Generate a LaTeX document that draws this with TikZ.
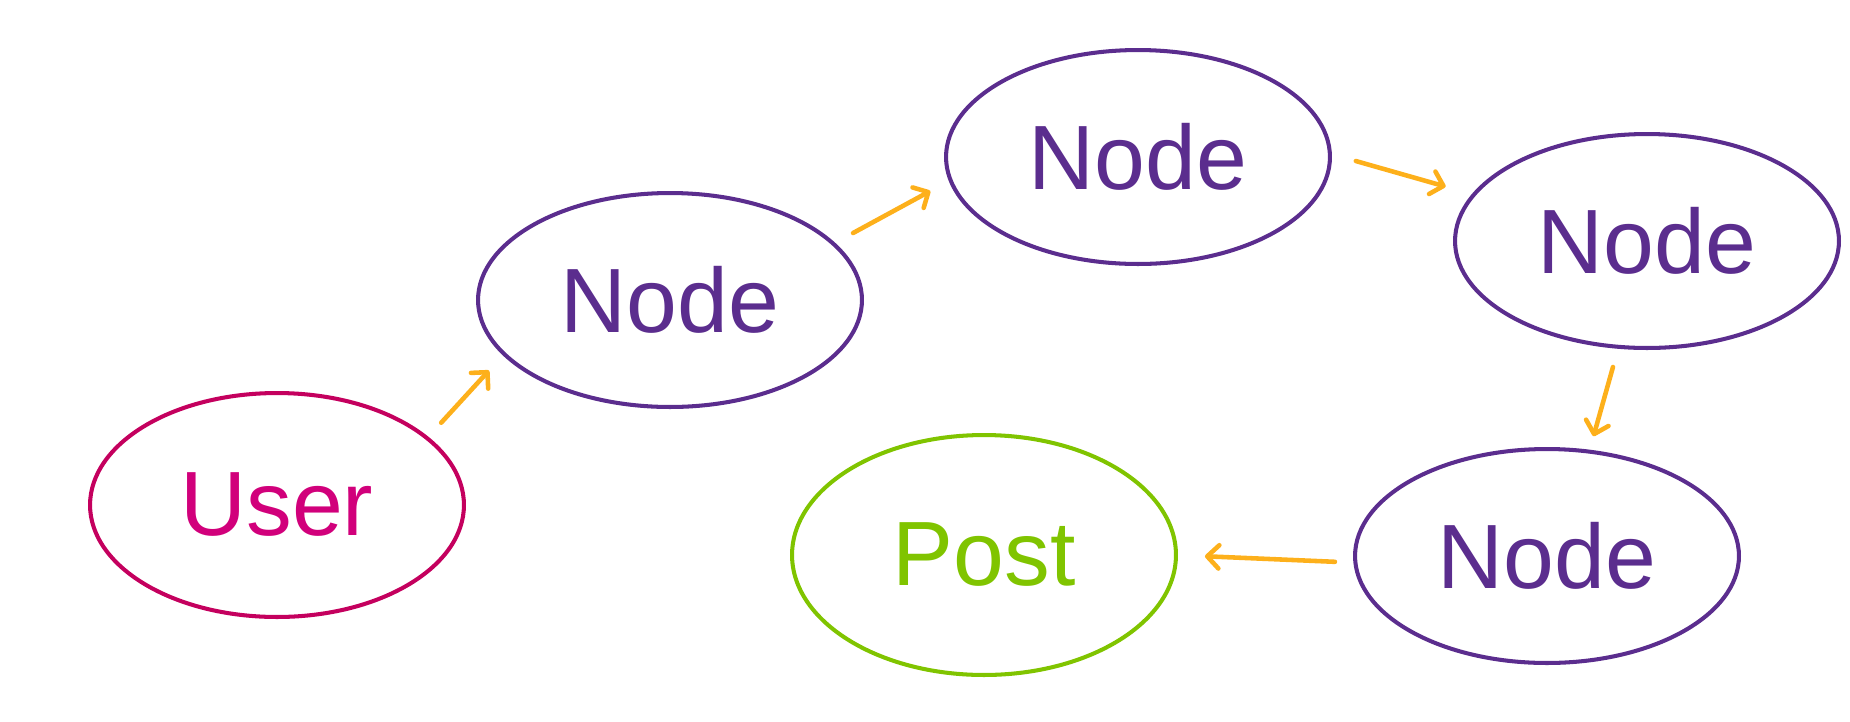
\documentclass[tikz,border=0pt]{standalone}
\usepackage{fontspec}
\setmainfont{Liberation Sans}
\usetikzlibrary{shapes.geometric,arrows.meta}
\definecolor{usrmag}{HTML}{D1007B}
\definecolor{usrline}{HTML}{C4005E}
\definecolor{nodepurp}{HTML}{5B2D8E}
\definecolor{postgrn}{HTML}{80C400}
\definecolor{flowor}{HTML}{FDB01B}
\tikzset{
  bubble/.style={ellipse,draw,line width=2.3pt,outer sep=0pt,
    minimum width=7.68cm,minimum height=4.28cm,
    font=\fontsize{52}{60}\selectfont},
  usr/.style={bubble,draw=usrline,text=usrmag,minimum width=7.48cm,minimum height=4.48cm},
  nd/.style={bubble,draw=nodepurp,text=nodepurp},
  pst/.style={bubble,draw=postgrn,text=postgrn,minimum height=4.8cm},
  flow/.style={draw=flowor,line width=2.6pt,line cap=round,
    -{Straight Barb[angle=90:0.33cm,round]}}
}

\begin{document}
\begin{tikzpicture}[x=0.02cm,y=-0.02cm]
  \useasboundingbox (0,0) rectangle (1850,721);

  \node[usr] (user) at (277,505)  {User};
  \node[nd]  (n1)   at (670,300)  {Node};
  \node[nd]  (n2)   at (1138,157) {Node};
  \node[nd]  (n3)   at (1647,241) {Node};
  \node[nd]  (n4)   at (1547,556) {Node};
  \node[pst] (post) at (984,555)  {Post};

  \draw[flow,shorten <=0.42cm,shorten >=0.45cm] (user.24.7) -- (n1.198.9);
  \draw[flow,shorten <=0.45cm,shorten >=0.46cm] (n1.19.3)   -- (n2.187.6);
  \draw[flow,shorten <=0.54cm,shorten >=0.59cm] (n2.1.5)    -- (n3.165.6);
  \draw[flow,shorten <=0.42cm,shorten >=0.32cm] (n3.255.2)  -- (n4.68);
  \draw[flow,shorten <=0.41cm,shorten >=0.58cm] (n4.182.4)  -- (post.0.6);
\end{tikzpicture}
\end{document}
